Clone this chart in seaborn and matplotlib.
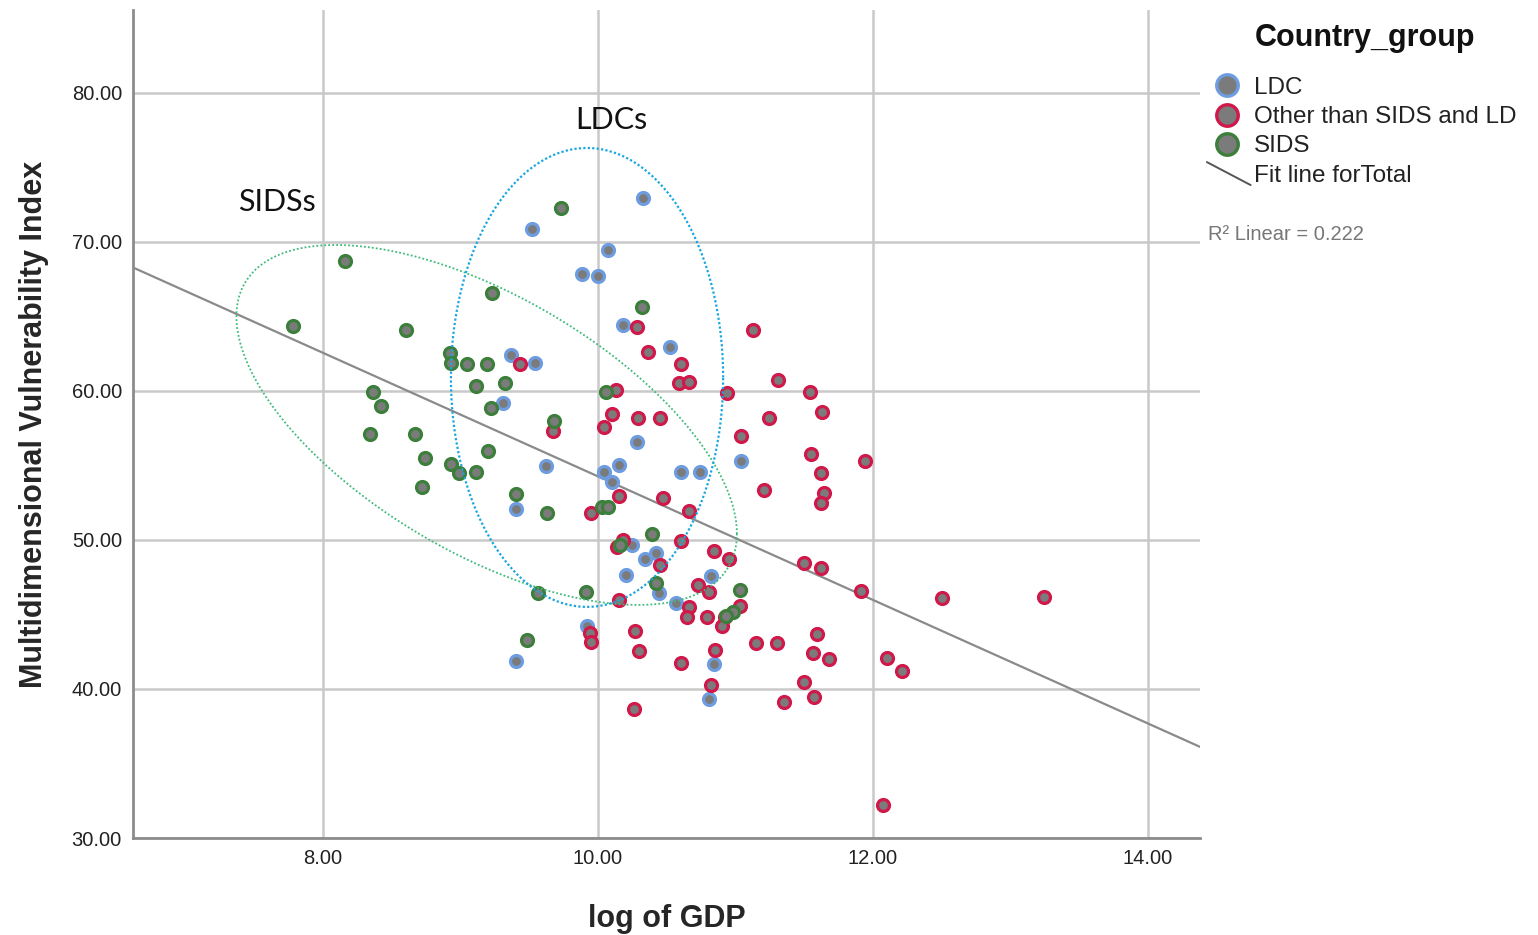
import numpy as np
import pandas as pd
import matplotlib
matplotlib.use("Agg")
import matplotlib.pyplot as plt
import seaborn as sns
from matplotlib.lines import Line2D
from matplotlib.legend_handler import HandlerBase

# ---------------- data ----------------
ldc_x = [9.52, 10.33, 10.07, 9.88, 10.00, 10.18, 9.37, 9.54, 9.31, 10.52, 9.62, 9.40,
         10.28, 10.15, 10.04, 10.10, 11.04, 10.60, 10.74, 10.25, 10.34, 10.42, 10.20,
         10.44, 10.57, 10.82, 9.92, 9.40, 10.84, 10.81]
ldc_y = [70.87, 72.95, 69.46, 67.85, 67.72, 64.43, 62.42, 61.88, 59.19, 62.95, 54.97, 52.08,
         56.58, 55.03, 54.56, 53.89, 55.30, 54.56, 54.56, 49.66, 48.72, 49.13, 47.65,
         46.44, 45.77, 47.58, 44.23, 41.88, 41.68, 39.33]

other_x = [9.43, 10.28, 10.36, 10.60, 10.59, 10.66, 11.13, 10.94, 11.31, 11.54, 11.63, 11.24,
           11.04, 11.55, 11.62, 10.13, 10.10, 10.29, 10.45, 10.04, 9.67, 11.94, 11.64, 11.62,
           11.21, 10.66, 10.15, 10.47, 9.95, 10.14, 10.18, 10.60, 10.84, 10.95, 10.45, 11.50,
           11.62, 11.91, 12.50, 13.24, 10.73, 10.81, 10.15, 10.66, 10.65, 10.79, 10.92, 11.03,
           10.90, 10.27, 10.30, 10.60, 10.85, 9.94, 9.95, 10.82, 11.15, 11.30, 11.59, 11.56,
           11.68, 12.10, 12.21, 11.50, 11.57, 11.35, 10.26, 12.07]
other_y = [61.81, 64.30, 62.62, 61.81, 60.54, 60.60, 64.09, 59.87, 60.74, 59.93, 58.59, 58.19,
           56.98, 55.77, 54.50, 60.07, 58.46, 58.19, 58.19, 57.58, 57.32, 55.30, 53.15, 52.48,
           53.36, 51.95, 52.95, 52.82, 51.81, 49.53, 50.00, 49.93, 49.26, 48.72, 48.32, 48.46,
           48.12, 46.58, 46.11, 46.17, 46.98, 46.51, 45.97, 45.50, 44.83, 44.83, 44.83, 45.57,
           44.23, 43.89, 42.55, 41.74, 42.62, 43.76, 43.15, 40.27, 43.09, 43.09, 43.69, 42.42,
           42.01, 42.08, 41.21, 40.47, 39.46, 39.13, 38.66, 32.21]

sids_x = [7.78, 8.16, 8.60, 8.36, 8.42, 8.34, 8.67, 8.74, 8.72, 8.93, 8.99, 8.92, 8.93,
          9.05, 9.19, 9.11, 9.32, 9.22, 9.20, 9.11, 9.40, 9.73, 9.23, 9.68, 9.63, 9.56,
          9.48, 9.91, 10.32, 10.06, 10.03, 10.07, 10.16, 10.39, 10.42, 11.03, 10.98, 10.93]
sids_y = [64.36, 68.72, 64.09, 59.93, 58.99, 57.11, 57.11, 55.50, 53.56, 55.10, 54.50, 62.55,
          61.88, 61.81, 61.81, 60.34, 60.54, 58.86, 55.97, 54.56, 53.09, 72.28, 66.58, 57.99,
          51.81, 46.44, 43.29, 46.51, 65.64, 59.93, 52.21, 52.21, 49.66, 50.40, 47.11, 46.64,
          45.17, 44.90]

groups = ["LDC", "Other than SIDS and LD", "SIDS"]
edge_colors = {"LDC": "#6d9de0", "Other than SIDS and LD": "#d0184a", "SIDS": "#3b7f3b"}
fill_color = "#7b7b7b"

x_ticks = [8, 10, 12, 14]
y_ticks = [30, 40, 50, 60, 70, 80]

df = pd.DataFrame({
    "gdp": ldc_x + other_x + sids_x,
    "mvi": ldc_y + other_y + sids_y,
    "group": ["LDC"] * len(ldc_x) + ["Other than SIDS and LD"] * len(other_x) + ["SIDS"] * len(sids_x),
})

# ---------------- figure ----------------
sns.set_style("white")
plt.rcParams["font.family"] = ["Liberation Sans", "DejaVu Sans"]

fig = plt.figure(figsize=(15.38, 9.35), dpi=100)
ax = fig.add_axes([133 / 1538, 1 - 838 / 935, (1200 - 133) / 1538, (838 - 10) / 935])

xlim = (6.618, 14.378)
ylim = (30.0, 85.57)
ax.set_xlim(*xlim)
ax.set_ylim(*ylim)

ax.grid(True, color="#c9c9c9", linewidth=1.8)
ax.set_axisbelow(True)

for g in groups:
    sub = df[df["group"] == g]
    sns.scatterplot(data=sub, x="gdp", y="mvi", ax=ax, color=fill_color,
                    edgecolor=edge_colors[g], linewidth=2.3, s=74, legend=False, zorder=3)

ax.set_xlim(*xlim)
sns.regplot(data=df, x="gdp", y="mvi", ax=ax, scatter=False, ci=None, truncate=False,
            line_kws=dict(color="#8a8a8a", linewidth=1.6, zorder=2))
ax.set_xlim(*xlim)
ax.set_ylim(*ylim)

# annotation ellipses (dotted)
t = np.linspace(0, 2 * np.pi, 400)
ax.plot(9.19 + 1.82 * np.cos(t), 57.72 - 7.29 * np.cos(t) - 9.63 * np.sin(t),
        color="#3dbb7a", linestyle=(0, (1, 1.2)), linewidth=1.3, zorder=4)
ax.plot(9.92 + 0.99 * np.cos(t), 60.91 + 15.40 * np.sin(t),
        color="#1aa6e0", linestyle=(0, (1, 1.0)), linewidth=1.6, zorder=4)

ax.text(7.665, 72.68, "SIDSs", fontsize=22, family=["Lato", "DejaVu Sans"],
        ha="center", va="center", color="#111111")
ax.text(10.10, 78.19, "LDCs", fontsize=22, family=["Lato", "DejaVu Sans"],
        ha="center", va="center", color="#111111")

ax.set_xticks(x_ticks)
ax.set_yticks(y_ticks)
ax.set_xticklabels([f"{v:.2f}" for v in x_ticks])
ax.set_yticklabels([f"{v:.2f}" for v in y_ticks])
ax.tick_params(axis="both", length=0, labelsize=14.5, colors="#222222", pad=8)

ax.set_xlabel("log of GDP", fontsize=22, fontweight="bold", labelpad=26)
ax.set_ylabel("Multidimensional Vulnerability Index", fontsize=22, fontweight="bold", labelpad=16)

for s in ["top", "right"]:
    ax.spines[s].set_visible(False)
for s in ["left", "bottom"]:
    ax.spines[s].set_color("#8c8c8c")
    ax.spines[s].set_linewidth(2.0)


# ---------------- legend ----------------
class DiagHandler(HandlerBase):
    def create_artists(self, legend, orig_handle, xdescent, ydescent, width, height, fontsize, trans):
        ln = Line2D([-xdescent - 0.2 * width, width + 0.3 * width],
                    [height * 1.15, -0.2 * height],
                    color=orig_handle.get_color(), linewidth=orig_handle.get_linewidth(),
                    transform=trans)
        return [ln]


handles = [Line2D([], [], marker="o", linestyle="", markerfacecolor=fill_color,
                  markeredgecolor=edge_colors[g], markersize=15.5, markeredgewidth=2.4)
           for g in groups]
fit_handle = Line2D([], [], color="#555555", linewidth=1.4)
handles.append(fit_handle)
labels = groups + ["Fit line forTotal"]

leg = fig.legend(handles, labels, loc="upper left", bbox_to_anchor=(1203 / 1538, 1 - 67 / 935),
                 frameon=False, fontsize=17.5,
                 handler_map={fit_handle: DiagHandler()},
                 handlelength=1.2, handletextpad=0.5, labelspacing=0.3, borderaxespad=0)
for txt in leg.get_texts():
    txt.set_color("#222222")

fig.text(1255 / 1538, 1 - 38 / 935, "Country_group", fontsize=22, fontweight="bold",
         color="#111111", ha="left", va="center")
fig.text(1208 / 1538, 1 - 234 / 935, "R² Linear = 0.222", fontsize=14.5, color="#777777",
         ha="left", va="center")

fig.savefig("out.png", dpi=100)
